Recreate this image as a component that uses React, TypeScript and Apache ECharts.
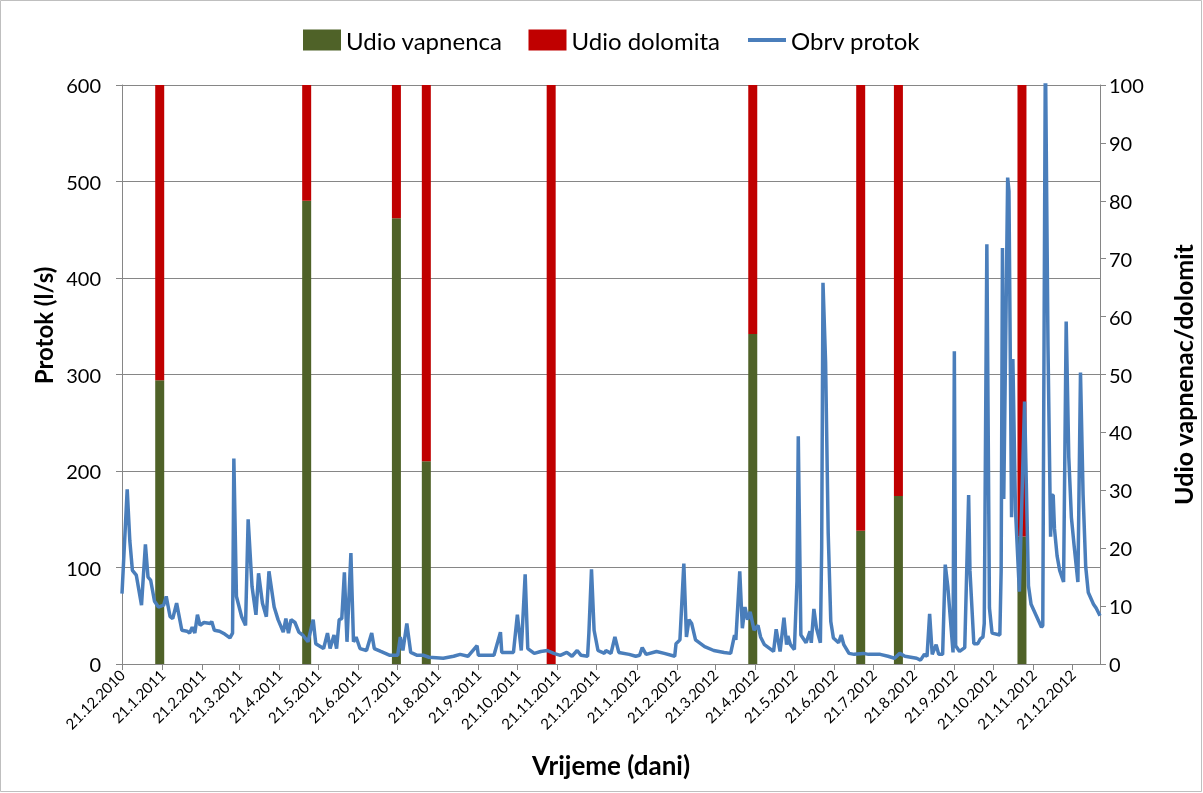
import React, { useEffect, useRef } from "react";
import * as echarts from "echarts";

// Days since 21.12.2010 and daily flow (l/s) at characteristic points of the hydrograph
const flowDays = [0, 4, 6, 8, 11, 15, 18, 20, 22, 25, 28, 32, 34, 37, 39, 42, 46, 50, 52, 54, 56, 58, 60, 63, 68, 69, 71, 75, 79, 83, 85, 86, 88, 92, 95, 97, 100, 103, 105, 108, 111, 113, 117, 120, 124, 126, 128, 130, 133, 136, 139, 143, 147, 149, 155, 158, 160, 163, 165, 167, 169, 171, 173, 176, 178, 180, 183, 188, 192, 194, 199, 206, 212, 214, 216, 219, 222, 227, 232, 236, 247, 255, 260, 266, 273, 274, 286, 291, 292, 301, 304, 307, 310, 312, 317, 322, 327, 332, 337, 342, 346, 350, 353, 358, 359, 361, 363, 366, 371, 372, 376, 379, 382, 390, 395, 398, 400, 403, 411, 417, 425, 426, 429, 432, 434, 436, 438, 441, 448, 455, 463, 468, 471, 472, 475, 477, 479, 481, 483, 486, 489, 491, 494, 501, 503, 506, 509, 511, 512, 514, 517, 519, 520, 522, 526, 529, 530, 532, 534, 537, 538, 539, 541, 543, 545, 547, 551, 553, 555, 559, 563, 570, 574, 583, 589, 594, 598, 602, 611, 614, 617, 619, 621, 623, 626, 628, 631, 633, 635, 639, 640, 641, 644, 648, 651, 652, 655, 658, 660, 662, 663, 665, 667, 669, 675, 676, 677, 678, 681, 682, 684, 685, 687, 690, 694, 697, 699, 703, 707, 708, 710, 712, 714, 715, 716, 717, 719, 721, 724, 726, 728, 730, 732, 735, 737, 739, 741, 743, 747, 749, 752];
const flowValues = [73, 181, 128, 97, 92, 61, 124, 90, 87, 65, 59, 61, 70, 49, 47, 63, 35, 34, 32, 38, 32, 51, 40, 43, 42, 44, 35, 34, 31, 27, 32, 213, 70, 49, 40, 150, 80, 51, 94, 63, 49, 96, 59, 46, 33, 47, 32, 46, 43, 33, 30, 23, 46, 21, 16, 32, 16, 30, 16, 46, 47, 95, 23, 115, 23, 28, 16, 14, 32, 16, 13, 9, 9, 28, 14, 42, 12, 9, 9, 7, 6, 8, 10, 8, 19, 9, 9, 33, 12, 12, 51, 14, 93, 16, 11, 13, 14, 11, 9, 12, 8, 14, 9, 8, 32, 98, 35, 14, 11, 14, 11, 28, 12, 10, 8, 9, 17, 10, 13, 11, 8, 21, 25, 104, 28, 46, 42, 25, 18, 14, 12, 11, 30, 25, 96, 37, 59, 46, 54, 35, 40, 28, 20, 13, 36, 13, 48, 20, 29, 20, 15, 86, 236, 30, 22, 34, 22, 57, 37, 22, 121, 395, 313, 136, 44, 27, 22, 30, 20, 11, 10, 11, 10, 10, 8, 6, 11, 8, 6, 4, 10, 8, 52, 10, 20, 10, 10, 103, 80, 12, 324, 19, 13, 17, 175, 97, 21, 21, 26, 28, 42, 435, 58, 32, 30, 97, 431, 171, 504, 490, 152, 316, 160, 75, 272, 81, 62, 50, 38, 40, 640, 330, 132, 175, 175, 140, 112, 97, 85, 355, 214, 152, 124, 85, 302, 175, 101, 74, 62, 58, 50];

// Sampling dates with rock share (%)
const sampleDates = ["19.1.2011", "12.5.2011", "20.7.2011", "12.8.2011", "16.11.2011", "19.4.2012", "11.7.2012", "9.8.2012", "12.11.2012"];
const vapnenac = [49, 80, 77, 35, 0, 57, 23, 29, 22];
const dolomit = [51, 20, 23, 65, 100, 43, 77, 71, 78];

const startDate = Date.UTC(2010, 11, 21);
const dayCount = 753;

export default function App() {
  const ref = useRef<HTMLDivElement>(null);
  useEffect(() => {
    if (!ref.current) return;
    const chart = echarts.init(ref.current, undefined, { renderer: "svg" });
    const cats: string[] = [];
    for (let i = 0; i < dayCount; i++) {
      const d = new Date(startDate + i * 86400000);
      cats.push(`${d.getUTCDate()}.${d.getUTCMonth() + 1}.${d.getUTCFullYear()}`);
    }
    const vArr: any[] = cats.map(() => "-");
    const dArr: any[] = cats.map(() => "-");
    sampleDates.forEach((s, k) => {
      const idx = cats.indexOf(s);
      if (idx >= 0) {
        vArr[idx] = vapnenac[k];
        dArr[idx] = dolomit[k];
      }
    });
    const flowData = flowDays.map((d, k) => [cats[d], flowValues[k]]);
    const isTick = (_i: number, v: string) => v.startsWith("21.");
    const font = "Lato, 'Open Sans', sans-serif";
    const axisGray = "#868686";
    const lineBlue = "#4A7EBB";
    chart.setOption({
      animation: false,
      textStyle: { fontFamily: font, color: "#000" },
      graphic: [
        {
          type: "rect",
          shape: { x: 0.5, y: 0.5, width: 1201, height: 791 },
          style: { fill: "none", stroke: "#BFBFBF", lineWidth: 1 },
          silent: true,
        },
      ],
      legend: {
        top: 23,
        left: 298,
        itemWidth: 38,
        itemHeight: 21,
        itemGap: 26,
        textStyle: { fontFamily: font, fontSize: 24, color: "#000" },
        data: [
          { name: "Udio vapnenca", icon: "rect" },
          { name: "Udio dolomita", icon: "rect" },
          { name: "Obrv protok", itemStyle: { opacity: 0 }, lineStyle: { color: lineBlue, width: 4 } },
        ],
      },
      grid: { left: 122, right: 103, top: 85, bottom: 129, containLabel: false },
      xAxis: {
        type: "category",
        data: cats,
        boundaryGap: false,
        name: "Vrijeme (dani)",
        nameLocation: "middle",
        nameGap: 88,
        nameTextStyle: { fontFamily: font, fontSize: 26, fontWeight: "bold", color: "#000" },
        axisLine: { lineStyle: { color: axisGray, width: 1 } },
        axisTick: { show: true, interval: isTick, length: 6, lineStyle: { color: axisGray } },
        axisLabel: { interval: isTick, rotate: 45, fontSize: 15, color: "#000", fontFamily: font, margin: 8 },
        splitLine: { show: false },
      },
      yAxis: [
        {
          type: "value",
          min: 0,
          max: 600,
          interval: 100,
          name: "Protok (l/s)",
          nameLocation: "middle",
          nameGap: 66,
          nameRotate: 90,
          nameTextStyle: { fontFamily: font, fontSize: 24, fontWeight: "bold", color: "#000", padding: [0, 0, 0, 98] },
          axisLine: { show: true, lineStyle: { color: axisGray } },
          axisTick: { show: true, length: 6, lineStyle: { color: axisGray } },
          axisLabel: { fontSize: 20, color: "#000", fontFamily: font, margin: 21 },
          splitLine: { show: true, lineStyle: { color: axisGray, width: 1 } },
        },
        {
          type: "value",
          min: 0,
          max: 100,
          interval: 10,
          position: "right",
          name: "Udio vapnenac/dolomit",
          nameLocation: "middle",
          nameGap: 70,
          nameRotate: 90,
          nameTextStyle: { fontFamily: font, fontSize: 25, fontWeight: "bold", color: "#000" },
          axisLine: { show: true, lineStyle: { color: axisGray } },
          axisTick: { show: true, length: 6, lineStyle: { color: axisGray } },
          axisLabel: { fontSize: 20, color: "#000", fontFamily: font, margin: 9 },
          splitLine: { show: false },
        },
      ],
      series: [
        {
          name: "Udio vapnenca",
          type: "bar",
          stack: "udio",
          yAxisIndex: 1,
          barWidth: 9,
          itemStyle: { color: "#4F6228" },
          data: vArr,
        },
        {
          name: "Udio dolomita",
          type: "bar",
          stack: "udio",
          yAxisIndex: 1,
          barWidth: 9,
          itemStyle: { color: "#C00000" },
          data: dArr,
        },
        {
          name: "Obrv protok",
          type: "line",
          yAxisIndex: 0,
          symbol: "none",
          clip: true,
          lineStyle: { color: lineBlue, width: 3.5 },
          itemStyle: { color: lineBlue },
          data: flowData,
        },
      ],
    });
    return () => chart.dispose();
  }, []);
  return <div ref={ref} style={{ position: "fixed", left: 0, top: 0, width: 1203, height: 793 }} />;
}
